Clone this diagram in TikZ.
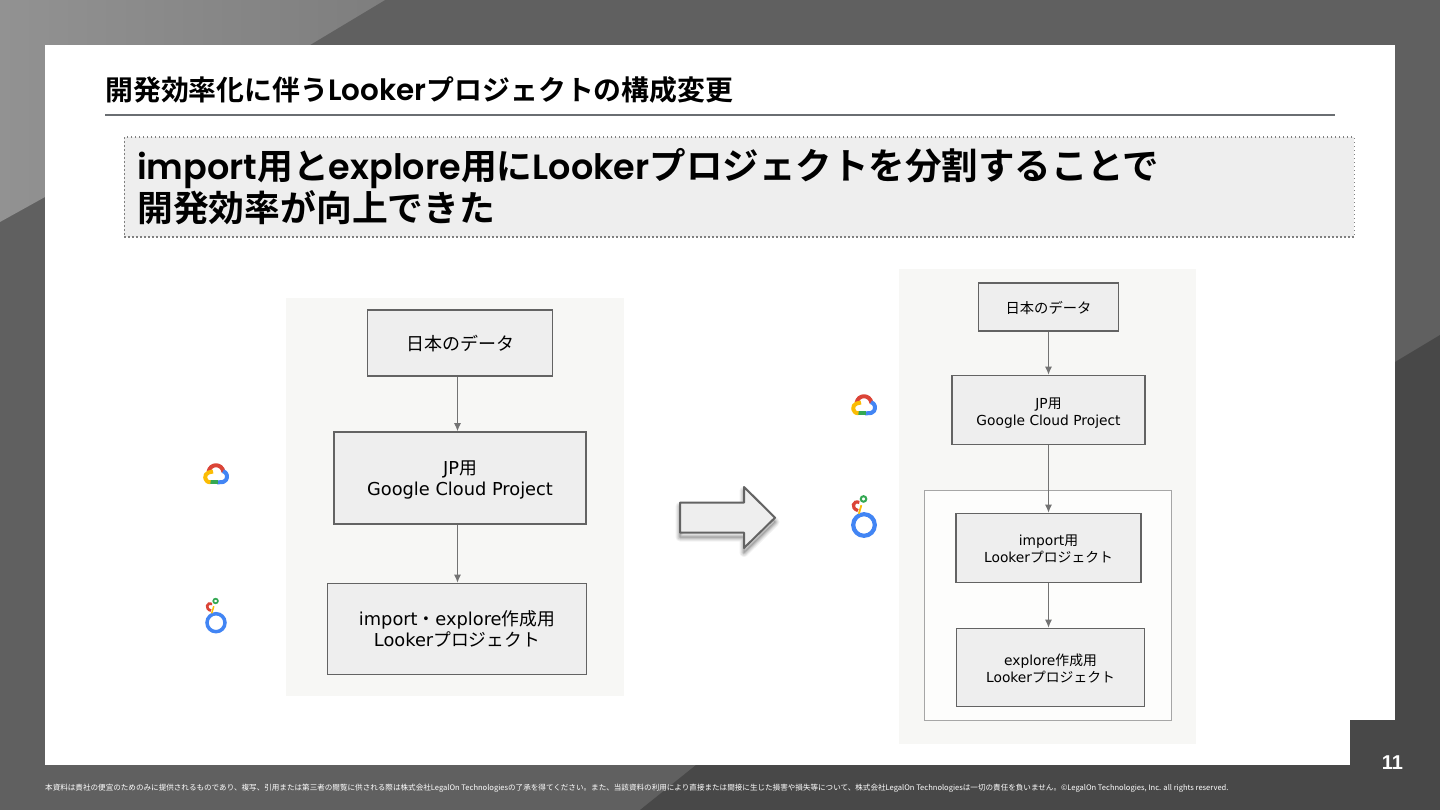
\documentclass[tikz,border=0pt]{standalone}
\usepackage{fontspec}
\setmainfont{DejaVu Sans}
\newfontfamily\cjk{Noto Sans CJK JP}
\newfontfamily\cjkt{Noto Sans CJK JP Bold}
\newfontfamily\latb{Poppins SemiBold}
\newfontfamily\numfont{Liberation Sans}
\newcommand{\Jp}[1]{{\cjk #1}}
\usetikzlibrary{arrows.meta,shadows}
\definecolor{bgmid}{HTML}{606060}
\definecolor{bgdark}{HTML}{484848}
\definecolor{bglightA}{HTML}{929292}
\definecolor{bglightB}{HTML}{7E7E7E}
\definecolor{boxfill}{HTML}{EEEEEE}
\definecolor{panel}{HTML}{F7F7F5}
\definecolor{edge}{HTML}{636363}
\definecolor{rulegray}{HTML}{6A6E72}
\definecolor{gblue}{HTML}{4285F4}
\definecolor{gred}{HTML}{DB4437}
\definecolor{gyellow}{HTML}{FBBC04}
\definecolor{ggreen}{HTML}{34A853}
\tikzset{
  x=1pt,y=-1pt,
  flow/.style={draw=edge,fill=boxfill,line width=1.8pt,align=center,inner sep=0pt,text=black},
  flowarrow/.style={draw=gray!90!black,line width=.9pt,-{Latex[length=8pt,width=7pt]}},
  foot/.style={text=white,font=\cjk,anchor=west,inner sep=0pt},
}
\newcommand{\dn}[1]{\rule{0pt}{#1pt}}
\newcommand{\gcloud}[3]{% x y scale
  \begin{scope}[shift={(#1,#2)},scale=#3,line width=#3*4pt,line cap=butt,line join=round]
    \draw[gred] (-7.5,-2) .. controls (-6,-11) and (6,-11) .. (7.5,-2);
    \draw[gblue] (7,-2.8) .. controls (11,-2) and (12,3) .. (10,6) .. controls (9,8) and (7,8.3) .. (1,8.3);
    \draw[ggreen] (1.5,8.3) -- (-6,8.3);
    \draw[gyellow] (-5.5,8.3) .. controls (-12,8.3) and (-12.5,0) .. (-7.5,-1.5) -- (-3,-2.5);
  \end{scope}}
\newcommand{\looker}[4]{% x y ringradius scale
  \begin{scope}[shift={(#1,#2)},scale=#4]
    \draw[gblue,line width=#4*3.5pt] (0,0) circle (#3);
    \draw[gred,line width=#4*2.7pt] (-3.9,-18.8) .. controls (-9,-21) and (-11.5,-14) .. (-5,-12);
    \draw[ggreen,line width=#4*1.7pt] (-.4,-21.7) circle (2.3);
    \draw[gyellow,line width=#4*1.5pt] (-4.3,-9.4) -- (-2.2,-16.5);
  \end{scope}}
\begin{document}
\begin{tikzpicture}
\useasboundingbox (0,0) rectangle (1440,810);
\fill[bgmid] (0,0) rectangle (1440,810);
\shade[left color=bglightA,right color=bglightB] (310,45) -- (385,0) -- (0,0) -- (0,222) -- (45,197) -- (45,45) -- cycle;
\fill[bgdark] (1395,362) -- (1440,335) -- (1440,810) -- (640,810) -- (696,765) -- (1395,765) -- cycle;
\fill[white] (45,45) rectangle (1395,765);
\fill[bgdark] (1350,720) rectangle (1395,765);
\node[text=white,font=\numfont\bfseries\fontsize{20}{22}\selectfont] (pagenum) at (1392.5,763) {11};
\node[anchor=west,inner sep=0pt,font=\cjkt\fontsize{27.9}{30}\selectfont] (title) at (105,90) {開発効率化に伴う{\latb\fontsize{29.4}{30}\selectfont Looker}プロジェクトの構成変更};
\draw[rulegray,line width=2.2pt] (105,115) -- (1335,115);
\node[draw=gray,dash pattern=on 1.5pt off 2.5pt,fill=boxfill,line width=1.5pt,minimum width=1230pt,minimum height=100pt,anchor=north west,inner sep=0pt] (banner) at (123.5,136.5) {};
\node[anchor=west,inner sep=0pt,align=left,font=\cjkt\fontsize{35.8}{42.5}\selectfont] (headline) at (137,186.5) {{\latb\fontsize{35}{42.5}\selectfont import}用と{\latb\fontsize{35}{42.5}\selectfont explore}用に{\latb\fontsize{35}{42.5}\selectfont Looker}{\fontsize{36.5}{42.5}\selectfont プロジェクトを分割することで}\\開発効率が向上できた};

% left
\fill[panel] (286,298) rectangle (624,696);
\node[flow,minimum width=185pt,minimum height=66pt,font=\fontsize{18}{22}\selectfont] (l1) at (460,343) {\dn{16}\Jp{日本のデータ}};
\node[flow,minimum width=252pt,minimum height=92pt,font=\fontsize{17.8}{21}\selectfont] (l2) at (460,478) {\dn{18}JP\Jp{用}\\Google Cloud Project};
\node[flow,minimum width=259pt,minimum height=91pt,font=\fontsize{17.8}{21}\selectfont] (l3) at (457,629) {import\Jp{・}explore\Jp{作成用}\\Looker\Jp{プロジェクト}};
\draw[flowarrow] ([xshift=-2.5pt]l1.south) -- ([xshift=-2.5pt]l2.north);
\draw[flowarrow] ([xshift=-2.5pt]l2.south) -- ([xshift=.5pt]l3.north);
\gcloud{216}{474}{1}
\looker{216}{622.7}{9}{1}

% arrow
\foreach \w/\o in {9/.05,7/.06,5/.07,3/.1,1/.12}{
  \draw[black,opacity=\o,line width=\w pt,line join=round] (680,506.5) -- (744,506.5) -- (744,491) -- (775,522) -- (744,552.5) -- (744,537) -- (680,537) -- cycle;
}
\draw[edge,fill=boxfill,line width=2pt,line join=round] (680,502.5) -- (744,502.5) -- (744,487) -- (775,517.7) -- (744,548) -- (744,532.7) -- (680,532.7) -- cycle;

% right
\fill[panel] (899,269) rectangle (1196,744);
\node[draw=gray!70,fill=white!70!panel,line width=1pt,minimum width=247pt,minimum height=230pt,inner sep=0pt] (group) at (1048,605) {};
\node[flow,minimum width=140pt,minimum height=48pt,font=\fontsize{14.3}{18}\selectfont] (r1) at (1048.5,307) {\dn{13.5}\Jp{日本のデータ}};
\node[flow,minimum width=193pt,minimum height=69pt,font=\fontsize{13.8}{17}\selectfont] (r2) at (1048.5,410) {\dn{16}JP\Jp{用}\\Google Cloud Project};
\node[flow,minimum width=185pt,minimum height=69pt,font=\fontsize{13.8}{17}\selectfont] (r3) at (1048.5,548) {\dn{12.5}import\Jp{用}\\Looker\Jp{プロジェクト}};
\node[flow,minimum width=188pt,minimum height=78pt,font=\fontsize{13.8}{17}\selectfont] (r4) at (1050.5,667.5) {\dn{13.5}explore\Jp{作成用}\\Looker\Jp{プロジェクト}};
\draw[flowarrow] (r1) -- (r2);
\draw[flowarrow] (r2) -- (r3);
\draw[flowarrow] (r3) -- ([xshift=-2pt]r4.north);
\gcloud{864}{405}{1}
\looker{864}{525}{9}{1.2}

\node[foot] (footer) at (45,788) {\fontsize{7.57}{9}\selectfont 本資料は貴社の便宜のためのみに提供されるものであり、複写、引用または第三者の閲覧に供される際は株式会社LegalOn Technologiesの了承を得てください。また、当該資料の利用により直接または間接に生じた損害や損失等について、株式会社LegalOn Technologiesは一切の責任を負いません。©LegalOn Technologies, Inc. all rights reserved.};
\end{tikzpicture}
\end{document}
